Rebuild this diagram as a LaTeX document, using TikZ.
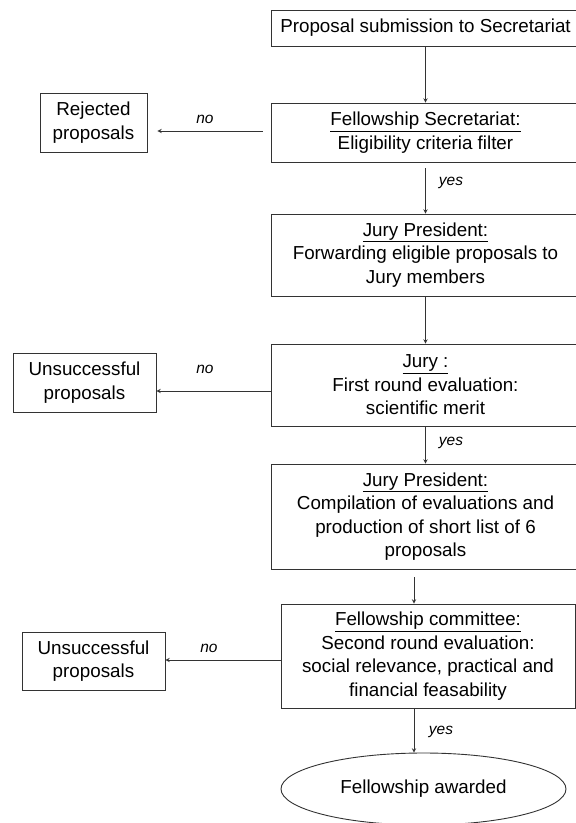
\documentclass[tikz,border=0pt]{standalone}
\usepackage{fontspec}
\setmainfont{Liberation Sans}
\usetikzlibrary{shapes.geometric}

\begin{document}
\begin{tikzpicture}[x=1pt,y=-1pt,
    box/.style={draw=black!80,line width=0.9pt,align=center,inner sep=0pt,font=\fontsize{18.8}{23.5}\selectfont},
    stage/.style={box,minimum width=309pt},
    flow/.style={->,>=stealth,draw=black!80,line width=0.9pt},
    lbl/.style={font=\fontsize{15.5}{18}\selectfont\itshape}]
    \useasboundingbox (0,0) rectangle (576,823);
    % main column
    \node[stage,minimum height=36pt] (sub) at (425.5,28) {Proposal submission to Secretariat};
    \node[stage,minimum height=59pt] (secr) at (425.5,132.5) {\underline{Fellowship Secretariat:}\\Eligibility criteria filter};
    \node[stage,minimum height=82pt] (pres1) at (425.5,255) {\underline{Jury President:}\\Forwarding eligible proposals to\\Jury members};
    \node[stage,minimum height=82pt] (jury) at (425.5,385) {\underline{Jury :}\\First round evaluation:\\scientific merit};
    \node[stage,minimum height=105pt] (pres2) at (425.5,516.5) {\underline{Jury President:}\\Compilation of evaluations and\\production of short list of 6\\proposals};
    \node[box,minimum width=294pt,minimum height=104pt] (comm) at (428,656) {\underline{Fellowship committee:}\\Second round evaluation:\\social relevance, practical and\\financial feasability};
    \node[box,ellipse,minimum width=285pt,minimum height=72pt] (award) at (423.5,789) {Fellowship awarded};
    % side boxes
    \node[box,minimum width=107pt,minimum height=59pt] (rej) at (93.5,122.5) {Rejected\\proposals};
    \node[box,minimum width=143pt,minimum height=59pt] (uns1) at (84.5,382.5) {Unsuccessful\\proposals};
    \node[box,minimum width=143pt,minimum height=58pt] (uns2) at (93.5,661) {Unsuccessful\\proposals};
    \coordinate (spine) at (414,590);
    % arrows
    \draw[flow] (sub) -- (secr);
    \draw[flow,shorten <=6pt] (secr) -- (pres1);
    \draw[flow] (pres1) -- (jury);
    \draw[flow] (jury) -- (pres2);
    \draw[flow,shorten <=8pt] (pres2.south -| spine) -- (comm.north -| spine);
    \draw[flow] (comm.south -| spine) -- (award.north -| spine);
    \draw[flow,shorten <=8pt,shorten >=10pt] ([yshift=1.5pt]secr.west) -- ([yshift=1.5pt]secr.west -| rej.east);
    \draw[flow] ([yshift=-6pt]jury.west) -- ([yshift=-6pt]jury.west -| uns1.east);
    \draw[flow] ([yshift=-4pt]comm.west) -- ([yshift=-4pt]comm.west -| uns2.east);
    % labels
    \path (205,119) node[lbl] (no1) {no};
    \path (205,369) node[lbl] (no2) {no};
    \path (209,648) node[lbl] (no3) {no};
    \path (451,183) node[lbl] (yes1) {yes};
    \path (451,443) node[lbl] (yes2) {yes};
    \path (441,732) node[lbl] (yes3) {yes};
\end{tikzpicture}
\end{document}
